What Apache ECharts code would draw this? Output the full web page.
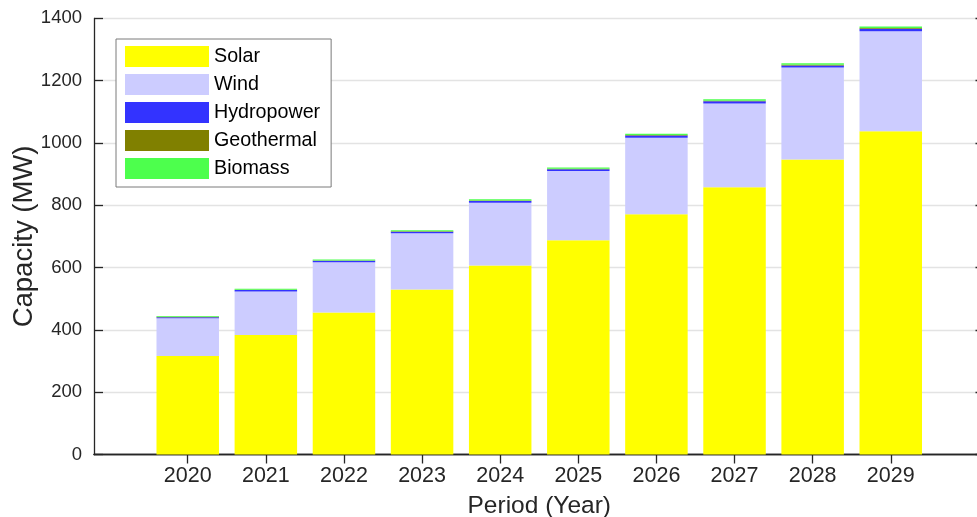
<!DOCTYPE html>
<html>
<head>
<meta charset="utf-8">
<script src="https://cdn.jsdelivr.net/npm/echarts@6/dist/echarts.min.js"></script>
<style>html,body{margin:0;padding:0;background:#fff}#c{width:977px;height:517px}</style>
</head>
<body>
<div id="c"></div>
<script>
const years = ['2020', '2021', '2022', '2023', '2024', '2025', '2026', '2027', '2028', '2029'];
const yearTicks = [2020, 2021, 2022, 2023, 2024, 2025, 2026, 2027, 2028, 2029];
const solar = [316, 384, 456, 530, 607, 688, 771, 858, 947, 1038];
const wind = [121, 139, 161, 180, 201, 222, 246, 269, 295, 321];
const hydropower = [4, 5, 5, 5, 6, 6, 7, 7, 7, 8];
const geothermal = [1, 1, 1, 1.5, 1.5, 1.5, 2, 2, 2, 2];
const biomass = [3, 3, 3, 3.5, 4, 4, 4, 4.5, 5, 5];

const FONT = 'Liberation Sans, Arial, sans-serif';
const INK = '#262626';
const seriesDefs = [
  ['Solar', solar, '#ffff00'],
  ['Wind', wind, '#ccccff'],
  ['Hydropower', hydropower, '#3333ff'],
  ['Geothermal', geothermal, '#808000'],
  ['Biomass', biomass, '#4dff4d']
];

// frame grid spans x range [2018.8, 2030.2]; bar grid spans the 10 category bands
const X_MIN = 2018.8, X_MAX = 2030.2;
const FL = 94, FR = 984.5;
const unit = (FR - FL) / (X_MAX - X_MIN);
const barLeft = FL + (2019.5 - X_MIN) * unit;
const barRight = FL + (2029.5 - X_MIN) * unit;

const chart = echarts.init(document.getElementById('c'), null, {renderer: 'canvas'});
const axisLine = {show: true, lineStyle: {color: INK, width: 1.3}};
const tickStyle = {color: INK, width: 1.3};
chart.setOption({
  animation: false,
  backgroundColor: '#fff',
  grid: [
    {left: FL, right: 977 - FR, top: 18.4, bottom: 62.5, containLabel: false, outerBoundsMode: 'none'},
    {left: barLeft, right: 977 - barRight, top: 18.4, bottom: 62.5, containLabel: false, outerBoundsMode: 'none'}
  ],
  legend: {
    orient: 'vertical', left: 116, top: 39,
    padding: [7, 11, 8, 9],
    itemWidth: 84, itemHeight: 21, itemGap: 7,
    borderColor: '#7a7a7a', borderWidth: 1, backgroundColor: '#fff',
    textStyle: {fontFamily: FONT, fontSize: 19.7, color: '#000'},
    data: seriesDefs.map(s => ({name: s[0], icon: 'rect'}))
  },
  xAxis: [{
    gridIndex: 0, type: 'value', min: X_MIN, max: X_MAX, position: 'bottom',
    axisLine: axisLine,
    axisTick: {show: true, inside: true, length: 9, customValues: yearTicks, lineStyle: tickStyle},
    axisLabel: {customValues: yearTicks, formatter: v => String(v), fontFamily: FONT, fontSize: 21.5, color: INK, margin: 11},
    splitLine: {show: false},
    name: 'Period (Year)', nameLocation: 'middle', nameGap: 39,
    nameTextStyle: {fontFamily: FONT, fontSize: 24.5, color: INK}
  }, {
    gridIndex: 0, type: 'value', min: X_MIN, max: X_MAX, position: 'top',
    axisLine: axisLine,
    axisTick: {show: true, inside: true, length: 9, customValues: yearTicks, lineStyle: tickStyle},
    axisLabel: {show: false}, splitLine: {show: false}
  }, {
    gridIndex: 1, type: 'category', data: years, boundaryGap: true,
    axisLine: {show: false}, axisTick: {show: false}, axisLabel: {show: false}, splitLine: {show: false}
  }],
  yAxis: [{
    gridIndex: 0, type: 'value', min: 0, max: 1400, interval: 200, position: 'left',
    axisLine: axisLine,
    axisTick: {show: true, inside: true, length: 9, lineStyle: tickStyle},
    axisLabel: {formatter: v => String(v), fontFamily: FONT, fontSize: 18.5, color: INK, margin: 12},
    splitLine: {show: true, lineStyle: {color: '#e3e3e3', width: 1.3}},
    name: 'Capacity (MW)', nameLocation: 'middle', nameGap: 56, nameMoveOverlap: false,
    nameTextStyle: {fontFamily: FONT, fontSize: 27.5, color: INK}
  }, {
    gridIndex: 0, type: 'value', min: 0, max: 1400, interval: 200, position: 'right',
    axisLine: axisLine,
    axisTick: {show: true, inside: true, length: 9, lineStyle: tickStyle},
    axisLabel: {show: false}, splitLine: {show: false}
  }, {
    gridIndex: 1, type: 'value', min: 0, max: 1400, interval: 200,
    axisLine: {show: false}, axisTick: {show: false}, axisLabel: {show: false}, splitLine: {show: false}
  }],
  series: seriesDefs.map(s => ({
    name: s[0], type: 'bar', stack: 'total', barCategoryGap: '20%',
    xAxisIndex: 2, yAxisIndex: 2,
    itemStyle: {color: s[2]},
    emphasis: {disabled: true},
    data: s[1]
  }))
});
</script>
</body>
</html>
